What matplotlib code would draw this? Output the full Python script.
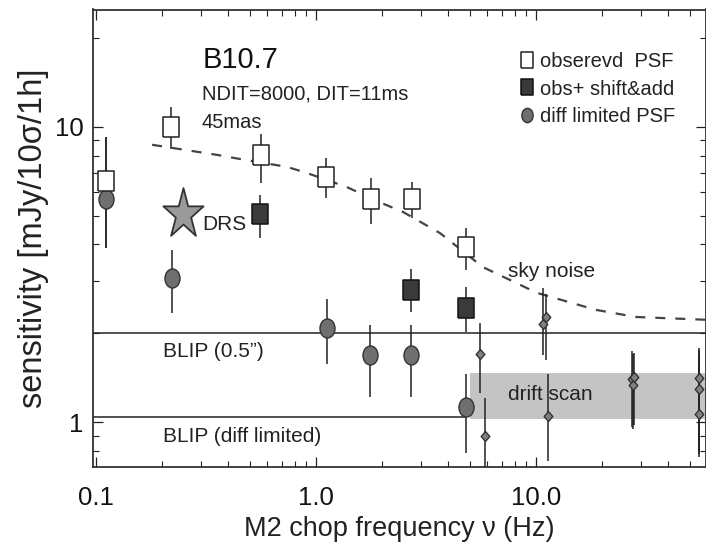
import matplotlib
matplotlib.use("Agg")
import matplotlib.pyplot as plt
import numpy as np
from matplotlib.path import Path
from matplotlib.transforms import Affine2D

# observed PSF (open squares)
obs_x = [0.111, 0.219, 0.562, 1.11, 1.78, 2.73, 4.81]
obs_y = [6.56, 10.0, 8.03, 6.74, 5.70, 5.70, 3.91]
obs_lo = [3.89, 8.43, 6.46, 5.74, 4.69, 4.92, 3.27]
obs_hi = [9.25, 11.7, 9.47, 7.85, 6.70, 6.50, 4.54]

# obs + shift&add (filled squares)
sa_x = [0.555, 2.71, 4.81]
sa_y = [5.05, 2.81, 2.44]
sa_lo = [4.20, 2.36, 2.02]
sa_hi = [5.88, 3.30, 2.87]

# diffraction limited PSF (grey circles)
dl_x = [0.111, 0.221, 1.12, 1.77, 2.70, 4.81]
dl_y = [5.70, 3.07, 2.09, 1.69, 1.69, 1.12]
dl_lo = [3.89, 2.34, 1.57, 1.22, 1.22, 0.785]
dl_hi = [9.25, 3.83, 2.61, 2.13, 2.13, 1.45]

# drift scan measurements (small diamonds)
ds_x = [5.57, 5.86, 10.75, 11.1, 11.3, 27.3, 27.6, 28.0, 55.0, 55.0, 55.0]
ds_y = [1.70, 0.897, 2.15, 2.27, 1.05, 1.40, 1.34, 1.42, 1.41, 1.29, 1.065]
ds_lo = [1.25, 0.60, 1.69, 1.62, 0.74, 0.96, 0.95, 0.98, 0.76, 0.80, 0.78]
ds_hi = [2.17, 1.21, 2.85, 2.72, 1.45, 1.74, 1.70, 1.72, 1.78, 1.75, 1.70]

# DRS star
drs_x = [0.2485]
drs_y = [5.05]

# sky noise curve
sky_x = [0.18, 0.355, 0.45, 0.74, 0.91, 1.38, 1.9, 2.49, 3.66, 5.74, 10.1, 18.7, 28.4, 60.0]
sky_y = [8.7, 8.04, 7.79, 7.32, 6.98, 6.26, 5.6, 5.15, 4.37, 3.35, 2.74, 2.40, 2.27, 2.22]

blip_05 = 2.0
blip_dl = 1.04
blip_dl_end = 4.81
drift_box_x = [5.0, 60.0]
drift_box_lo = 1.02
drift_box_hi = 1.47

xticks = [0.1, 1.0, 10.0]
xtick_labels = ["0.1", "1.0", "10.0"]
yticks = [1, 10]
ytick_labels = ["1", "10"]

txt_font = ["Liberation Sans", "DejaVu Sans"]

rect = [(-0.4, -0.5), (0.4, -0.5), (0.4, 0.5), (-0.4, 0.5), (-0.4, -0.5)]
ellipse = Path.unit_circle().transformed(Affine2D().scale(0.79, 1.0))
star = Path.unit_regular_star(5, 0.381).transformed(Affine2D().scale(0.8, 1.0))
diamond = [(0, 0.5), (0.43, 0), (0, -0.5), (-0.43, 0), (0, 0.5)]


def yerr(y, lo, hi):
    y = np.array(y)
    return [y - np.array(lo), np.array(hi) - y]


fig = plt.figure(figsize=(7.06, 5.52), dpi=100)
ax = fig.add_axes([93 / 706, 1 - 467 / 552, (706 - 93) / 706, 457.5 / 552])
ax.set_xscale("log")
ax.set_yscale("log")
ax.set_xlim(0.097, 59.3)
ax.set_ylim(0.704, 25.0)

# reference lines and drift scan band
ax.axhline(blip_05, color="#333333", lw=1.2, zorder=1)
ax.hlines(blip_dl, 0.097, blip_dl_end, color="#333333", lw=1.2, zorder=1)
ax.fill_between(drift_box_x, drift_box_lo, drift_box_hi, color="#c4c4c4", lw=0, zorder=1)
ax.plot(sky_x, sky_y, color="#444444", lw=1.6, ls=(0, (4.5, 4.5)), zorder=2)

# error bars
eb = dict(fmt="none", ecolor="#222222", elinewidth=1.1, capsize=0, zorder=3)
ax.errorbar(dl_x, dl_y, yerr=yerr(dl_y, dl_lo, dl_hi), **eb)
ax.errorbar(obs_x, obs_y, yerr=yerr(obs_y, obs_lo, obs_hi), **eb)
ax.errorbar(sa_x, sa_y, yerr=yerr(sa_y, sa_lo, sa_hi), **eb)
ax.errorbar(ds_x, ds_y, yerr=yerr(ds_y, ds_lo, ds_hi), **eb)

# markers
h_dl, = ax.plot(dl_x, dl_y, ls="none", marker=ellipse, ms=13.7, mfc="#6f6f6f",
                mec="#333333", mew=1.0, zorder=4, label="diff limited PSF")
h_obs, = ax.plot(obs_x, obs_y, ls="none", marker=rect, ms=15.1, mfc="white",
                 mec="#222222", mew=1.1, zorder=5, label="obserevd  PSF")
h_sa, = ax.plot(sa_x, sa_y, ls="none", marker=rect, ms=15.1, mfc="#3a3a3a",
                mec="#111111", mew=1.1, zorder=5, label="obs+ shift&add")
ax.plot(ds_x, ds_y, ls="none", marker=diamond, ms=7.2, mfc="#808080",
        mec="#333333", mew=1.0, zorder=5)
ax.plot(drs_x, drs_y, ls="none", marker=star, ms=38, mfc="#9a9a9a",
        mec="#333333", mew=1.3, zorder=5)

# annotations
ax.text(0.306, 15.8, "B10.7", fontsize=21, family=txt_font, color="#111111")
ax.text(0.303, 12.4, "NDIT=8000, DIT=11ms", fontsize=14.5, family=txt_font, color="#222222")
ax.text(0.303, 9.93, "45mas", fontsize=14.5, family=txt_font, color="#222222")
ax.text(0.303, 4.48, "DRS", fontsize=15, family=txt_font, color="#222222", zorder=6)
ax.text(7.46, 3.10, "sky noise", fontsize=15, family=txt_font, color="#222222")
ax.text(0.202, 1.66, "BLIP (0.5\u201d)", fontsize=15, family=txt_font, color="#222222")
ax.text(0.202, 0.855, "BLIP (diff limited)", fontsize=15, family=txt_font, color="#222222")
ax.text(7.46, 1.187, "drift scan", fontsize=15, family=txt_font, color="#222222", zorder=2)

leg = ax.legend(handles=[h_obs, h_sa, h_dl], loc="upper left", bbox_to_anchor=(0.696, 0.907),
                frameon=False, borderpad=0, borderaxespad=0, handlelength=0.7,
                handletextpad=0.3, labelspacing=0.42, markerscale=0.75,
                prop={"family": txt_font, "size": 14.5})
for t in leg.get_texts():
    t.set_color("#222222")

# axes styling
ax.set_xticks(xticks, xtick_labels)
ax.set_yticks(yticks, ytick_labels)
ax.tick_params(which="both", direction="in", top=True, right=True, color="#222222")
ax.tick_params(which="major", length=7.5, width=0.9)
ax.tick_params(which="minor", length=4, width=0.8)
ax.tick_params(axis="x", which="major", pad=14)
ax.tick_params(axis="y", which="major", pad=7)
for lab in ax.get_xticklabels() + ax.get_yticklabels():
    lab.set_family(txt_font)
    lab.set_fontsize(18.5)
    lab.set_color("#111111")
for s in ax.spines.values():
    s.set_linewidth(1.3)
    s.set_color("#333333")

ax.set_xlabel("M2 chop frequency \u03bd (Hz)", fontsize=19.5, family=txt_font,
              color="#222222", labelpad=4)
ax.set_ylabel("sensitivity [mJy/10\u03c3/1h]", fontsize=23.5, family=txt_font,
              color="#222222")
ax.yaxis.set_label_coords(-0.072, 0.5)

fig.savefig("out.png", dpi=100)
